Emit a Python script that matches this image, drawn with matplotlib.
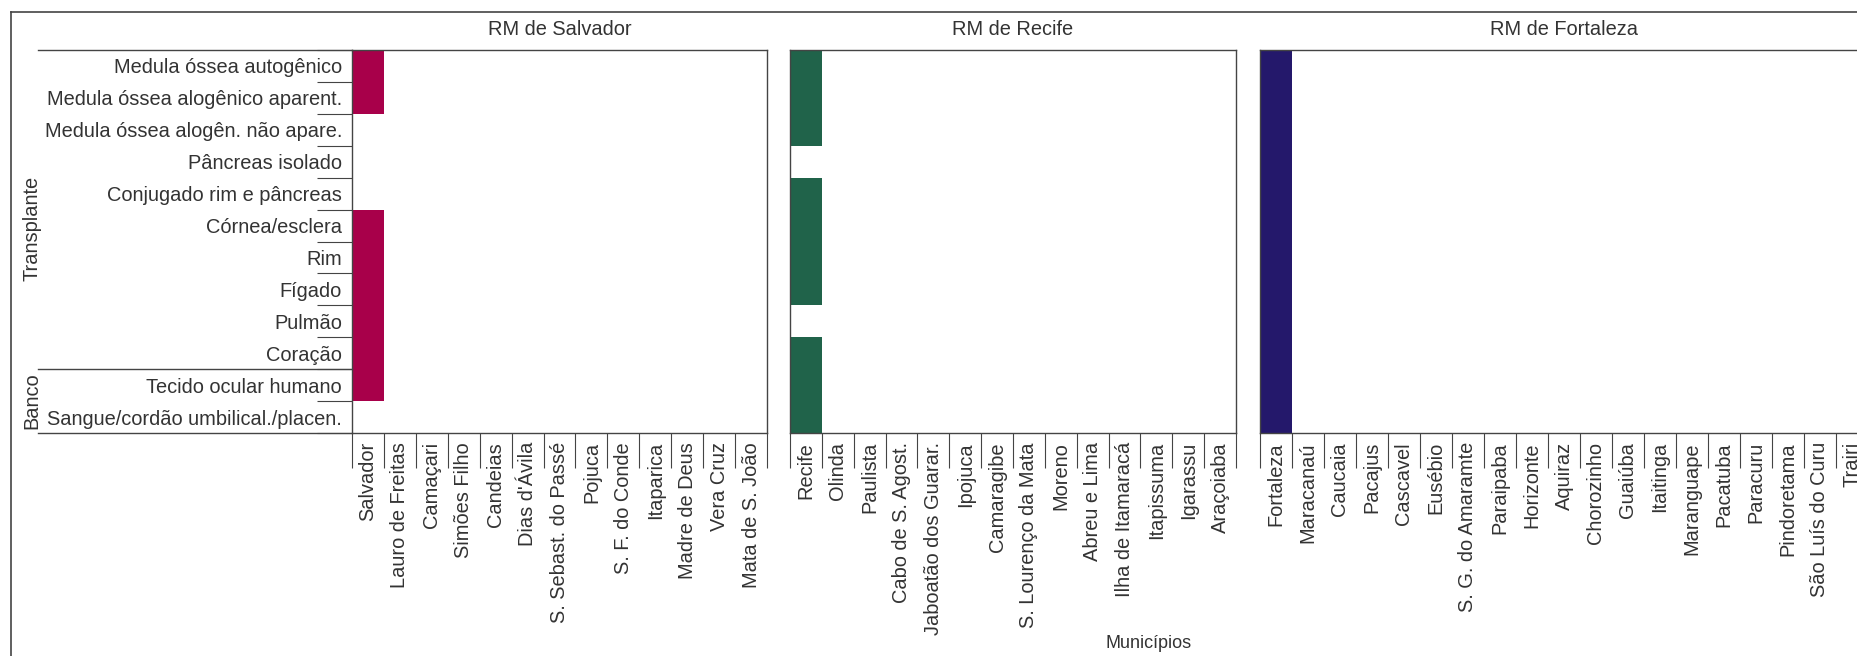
import numpy as np
import matplotlib
matplotlib.use("Agg")
import matplotlib.pyplot as plt
from matplotlib.colors import ListedColormap
from matplotlib.lines import Line2D
from matplotlib.transforms import blended_transform_factory

plt.rcParams['font.family'] = ['Liberation Sans', 'DejaVu Sans']

# Service categories (rows, top to bottom)
categories = [
    "Medula óssea autogênico",
    "Medula óssea alogênico aparent.",
    "Medula óssea alogên. não apare.",
    "Pâncreas isolado",
    "Conjugado rim e pâncreas",
    "Córnea/esclera",
    "Rim",
    "Fígado",
    "Pulmão",
    "Coração",
    "Tecido ocular humano",
    "Sangue/cordão umbilical./placen.",
]
group_names = ["Transplante", "Banco"]
group_sizes = [10, 2]

# Municipalities of each metropolitan region
salvador_munis = ["Salvador", "Lauro de Freitas", "Camaçari", "Simões Filho",
                  "Candeias", "Dias d'Ávila", "S. Sebast. do Passé", "Pojuca",
                  "S. F. do Conde", "Itaparica", "Madre de Deus", "Vera Cruz",
                  "Mata de S. João"]
recife_munis = ["Recife", "Olinda", "Paulista", "Cabo de S. Agost.",
                "Jaboatão dos Guarar.", "Ipojuca", "Camaragibe",
                "S. Lourenço da Mata", "Moreno", "Abreu e Lima",
                "Ilha de Itamaracá", "Itapissuma", "Igarassu", "Araçoiaba"]
fortaleza_munis = ["Fortaleza", "Maracanaú", "Caucaia", "Pacajus", "Cascavel",
                   "Eusébio", "S. G. do Amaramte", "Paraipaba", "Horizonte",
                   "Aquiraz", "Chorozinho", "Guaiúba", "Itaitinga",
                   "Maranguape", "Pacatuba", "Paracuru", "Pindoretama",
                   "São Luís do Curu", "Trairi"]

# Services offered (1) by each capital city; other municipalities offer none
salvador_offer = [1, 1, 0, 0, 0, 1, 1, 1, 1, 1, 1, 0]
recife_offer = [1, 1, 1, 0, 1, 1, 1, 1, 0, 1, 1, 1]
fortaleza_offer = [1, 1, 1, 1, 1, 1, 1, 1, 1, 1, 1, 1]

region_titles = ["RM de Salvador", "RM de Recife", "RM de Fortaleza"]
region_colors = ["#A8004A", "#20634A", "#24186B"]

W, H = 1858, 656
fig = plt.figure(figsize=(W / 100, H / 100), dpi=100)

TXT = "#333333"
LINE = "#444444"
FS = 14.4

# panel placement in pixels: (left, width)
panels = [(352, 415), (790, 446), (1260, 608)]
top_px, bottom_px = 50, 433

regions = [
    (salvador_munis, salvador_offer),
    (recife_munis, recife_offer),
    (fortaleza_munis, fortaleza_offer),
]

for k, ((munis, offer), (lx, wx)) in enumerate(zip(regions, panels)):
    ax = fig.add_axes([lx / W, 1 - bottom_px / H, wx / W, (bottom_px - top_px) / H])
    n = len(munis)
    grid = np.zeros((len(categories), n))
    grid[:, 0] = offer
    ax.pcolormesh(np.arange(n + 1), np.arange(len(categories) + 1),
                  np.ma.masked_equal(grid, 0),
                  cmap=ListedColormap([region_colors[k]]), vmin=0, vmax=1)
    ax.set_xlim(0, n)
    ax.set_ylim(len(categories), 0)

    for s in ax.spines.values():
        s.set_color(LINE)
        s.set_linewidth(1.0)

    # column separators below the panel and municipality labels
    ax.set_xticks(np.arange(n + 1))
    ax.set_xticklabels([])
    ax.set_xticks(np.arange(n) + 0.5, minor=True)
    ax.set_xticklabels(munis, minor=True, rotation=90, fontsize=FS, color=TXT)
    ax.tick_params(axis='x', which='major', direction='out', length=25.2,
                   width=0.8, color=LINE)
    ax.tick_params(axis='x', which='minor', length=0, pad=6.5)

    if k == 0:
        ax.set_yticks(np.arange(len(categories) + 1))
        ax.set_yticklabels([])
        ax.set_yticks(np.arange(len(categories)) + 0.5, minor=True)
        ax.set_yticklabels(categories, minor=True, fontsize=FS, color=TXT)
        ax.tick_params(axis='y', which='major', direction='out', length=25.2,
                       width=0.8, color=LINE)
        ax.tick_params(axis='y', which='minor', length=0, pad=7.2)

        tr = blended_transform_factory(ax.transAxes, ax.transData)
        bounds = np.concatenate([[0], np.cumsum(group_sizes)])
        for b in bounds:
            ax.plot([(38 - lx) / wx, 0], [b, b], transform=tr, color=LINE,
                    lw=1.0, clip_on=False)

        trf = blended_transform_factory(fig.transFigure, ax.transData)
        ax.text(32 / W, 5.6, group_names[0], transform=trf, rotation=90,
                ha='center', va='center', fontsize=FS, color=TXT)
        ax.text(32 / W, bounds[1] + group_sizes[1] / 2, group_names[1],
                transform=trf, rotation=90, ha='center', va='center',
                fontsize=FS, color=TXT)
    else:
        ax.set_yticks([])

    ax.text(0.5, 1 + 15 / (bottom_px - top_px), region_titles[k],
            transform=ax.transAxes, ha='center', va='baseline',
            fontsize=FS, color=TXT)

# outer frame
fig.add_artist(Line2D([11 / W, 1], [1 - 12 / H, 1 - 12 / H], color=LINE, lw=1.2))
fig.add_artist(Line2D([11 / W, 11 / W], [0, 1 - 12 / H], color=LINE, lw=1.2))

fig.text(1149 / W, 1 - 643 / H, "Municípios", ha='center', va='center',
         fontsize=13, color=TXT)

fig.savefig("out.png", dpi=100, facecolor="white")
